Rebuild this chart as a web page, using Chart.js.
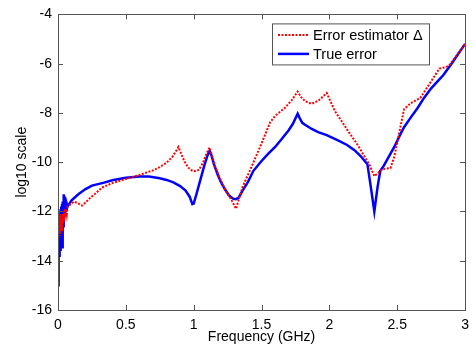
<!DOCTYPE html>
<html>
<head>
<meta charset="utf-8">
<script src="https://cdn.jsdelivr.net/npm/chart.js@4/dist/chart.umd.min.js"></script>
<style>
  html, body { margin: 0; padding: 0; background: #fff; }
  #wrap { width: 476px; height: 349px; }
</style>
</head>
<body>
<div id="wrap"><canvas id="errChart" width="476" height="349"></canvas></div>
<script>
// Error estimator (red dotted), log10 values vs frequency in GHz
const estFreq = [0, 0.002, 0.005, 0.008, 0.011, 0.014, 0.017, 0.02, 0.023, 0.026, 0.03, 0.034, 0.038, 0.042, 0.046, 0.05, 0.055, 0.06, 0.065, 0.07, 0.08,
  0.095, 0.117, 0.14, 0.178, 0.21, 0.24, 0.28, 0.324, 0.4, 0.5, 0.6, 0.7, 0.75, 0.8, 0.84, 0.87, 0.887, 0.9, 0.93, 0.96, 0.99, 1.015, 1.04,
  1.07, 1.09, 1.117, 1.13, 1.16, 1.2, 1.24, 1.28, 1.312, 1.33, 1.36, 1.417, 1.46, 1.5, 1.563, 1.6, 1.673, 1.72, 1.766, 1.79, 1.82, 1.868,
  1.92, 1.98, 2.04, 2.136, 2.21, 2.26, 2.295, 2.331, 2.39, 2.45, 2.478, 2.55, 2.6, 2.67, 2.74, 2.81, 2.85, 2.88, 2.94, 3.0];
const estLog = [-15.2, -11.9, -12.8, -12.0, -13.0, -12.1, -12.9, -12.2, -12.7, -12.3, -12.8, -12.1, -12.5, -12.0, -12.4, -11.9, -12.2, -11.9, -12.1, -11.8, -11.75,
  -11.7, -11.6, -11.65, -11.76, -11.6, -11.43, -11.25, -11.03, -10.85, -10.68, -10.52, -10.33, -10.2, -10.02, -9.8, -9.55, -9.38, -9.55, -9.95, -10.22, -10.35, -10.37, -10.3,
  -10.0, -9.7, -9.4, -9.65, -10.2, -10.75, -11.2, -11.55, -11.89, -11.55, -11.0, -10.3, -9.75, -9.24, -8.38, -8.12, -7.79, -7.5, -7.13, -7.35, -7.52, -7.63,
  -7.5, -7.19, -7.92, -8.72, -9.31, -9.78, -10.1, -10.57, -10.28, -10.24, -9.78, -7.85, -7.6, -7.39, -6.8, -6.2, -6.15, -6.09, -5.65, -5.2];

// True error (blue solid)
const trueFreq = [0, 0.003, 0.006, 0.009, 0.012, 0.015, 0.018, 0.021, 0.024, 0.027, 0.03, 0.033, 0.036, 0.039, 0.042, 0.045, 0.048, 0.052, 0.056, 0.06, 0.065, 0.07, 0.08,
  0.1, 0.15, 0.2, 0.25, 0.34, 0.4, 0.5, 0.6, 0.67, 0.75, 0.8, 0.85, 0.9, 0.94, 0.97, 0.99, 1.0, 1.02, 1.05, 1.08, 1.1, 1.117, 1.13, 1.15,
  1.18, 1.2, 1.23, 1.26, 1.29, 1.31, 1.33, 1.36, 1.4, 1.44, 1.5, 1.55, 1.6, 1.65, 1.7, 1.73, 1.766, 1.78, 1.8, 1.82, 1.87, 1.917, 1.98,
  2.063, 2.13, 2.185, 2.23, 2.26, 2.28, 2.305, 2.331, 2.355, 2.375, 2.4, 2.44, 2.478, 2.52, 2.55, 2.6, 2.65, 2.697, 2.75, 2.8, 2.84, 2.9, 2.95, 3.0];
const trueLog = [-15.0, -14.2, -12.1, -13.8, -12.0, -13.2, -11.9, -13.6, -11.8, -13.0, -11.7, -13.5, -11.6, -12.6, -11.3, -12.2, -11.4, -12.0, -11.6, -11.9, -11.7, -11.8, -11.72,
  -11.55, -11.3, -11.1, -10.95, -10.83, -10.73, -10.63, -10.58, -10.58, -10.65, -10.72, -10.82, -10.97, -11.15, -11.4, -11.7, -11.68, -11.3, -10.7, -10.1, -9.75, -9.54, -9.7, -10.1,
  -10.55, -10.8, -11.1, -11.35, -11.48, -11.5, -11.45, -11.15, -10.8, -10.35, -9.95, -9.65, -9.38, -9.05, -8.7, -8.45, -8.03, -8.2, -8.4, -8.48, -8.65, -8.78, -8.9,
  -9.11, -9.3, -9.51, -9.75, -9.95, -10.08, -11.0, -12.0, -11.0, -10.35, -10.15, -9.75, -9.38, -8.9, -8.58, -8.18, -7.8, -7.39, -7.0, -6.7, -6.46, -6.0, -5.6, -5.2];

const xTicks = [0, 0.5, 1, 1.5, 2, 2.5, 3];
const yTicks = [-16, -14, -12, -10, -8, -6, -4];
const seriesNames = ['Error estimator \u0394', 'True error'];

const FONT = 'Arial, "Liberation Sans", sans-serif';
const AXIS_COLOR = '#555';

function toPoints(xs, ys) {
  return xs.map((x, i) => ({ x: x, y: ys[i] }));
}

// box around the axes plus inward tick marks on all four sides
const axesBox = {
  id: 'axesBox',
  afterDatasetsDraw(chart) {
    const { ctx, chartArea: a, scales } = chart;
    const tl = 5;
    ctx.save();
    ctx.strokeStyle = AXIS_COLOR;
    ctx.lineWidth = 1;
    ctx.beginPath();
    xTicks.forEach(v => {
      const px = Math.round(scales.x.getPixelForValue(v)) + 0.5;
      ctx.moveTo(px, a.bottom); ctx.lineTo(px, a.bottom - tl);
      ctx.moveTo(px, a.top); ctx.lineTo(px, a.top + tl);
    });
    yTicks.forEach(v => {
      const py = Math.round(scales.y.getPixelForValue(v)) + 0.5;
      ctx.moveTo(a.left, py); ctx.lineTo(a.left + tl, py);
      ctx.moveTo(a.right, py); ctx.lineTo(a.right - tl, py);
    });
    ctx.stroke();
    ctx.strokeRect(Math.round(a.left) + 0.5, Math.round(a.top) + 0.5,
      Math.round(a.right - a.left), Math.round(a.bottom - a.top));
    ctx.restore();
  }
};

// boxed legend in the upper right
const boxLegend = {
  id: 'boxLegend',
  afterDraw(chart) {
    const { ctx, chartArea: a } = chart;
    const left = a.left + 214, top = a.top + 9, w = 157, h = 41;
    ctx.save();
    ctx.fillStyle = '#fff';
    ctx.fillRect(left, top, w, h);
    ctx.strokeStyle = AXIS_COLOR;
    ctx.lineWidth = 1;
    ctx.strokeRect(left + 0.5, top + 0.5, w, h);
    ctx.font = '14.5px ' + FONT;
    ctx.textBaseline = 'middle';
    ctx.fillStyle = '#000';
    chart.data.datasets.forEach((ds, i) => {
      const y = top + 11.5 + i * 19;
      ctx.beginPath();
      ctx.strokeStyle = ds.borderColor;
      ctx.lineWidth = ds.borderWidth;
      ctx.setLineDash(ds.borderDash || []);
      ctx.moveTo(left + 6, y);
      ctx.lineTo(left + 37, y);
      ctx.stroke();
      ctx.setLineDash([]);
      ctx.fillText(ds.label, left + 41, y + 1);
    });
    ctx.restore();
  }
};

new Chart(document.getElementById('errChart'), {
  type: 'line',
  data: {
    datasets: [
      {
        label: seriesNames[0],
        data: toPoints(estFreq, estLog),
        borderColor: '#ff0000',
        borderWidth: 2,
        borderDash: [2, 1.5],
        pointRadius: 0,
        tension: 0
      },
      {
        label: seriesNames[1],
        data: toPoints(trueFreq, trueLog),
        borderColor: '#0000ff',
        borderWidth: 2.5,
        pointRadius: 0,
        tension: 0
      }
    ]
  },
  options: {
    responsive: false,
    animation: false,
    layout: { padding: { left: 0, right: 8, top: 8, bottom: 0 } },
    plugins: { legend: { display: false }, tooltip: { enabled: false } },
    scales: {
      x: {
        type: 'linear', min: 0, max: 3,
        afterFit(scale) { scale.height = 39; },
        afterBuildTicks(scale) { scale.ticks = xTicks.map(v => ({ value: v })); },
        grid: { display: false, drawTicks: false },
        border: { display: false },
        ticks: {
          color: '#000', padding: 7, maxRotation: 0, font: { family: FONT, size: 14 },
          callback: v => String(v)
        },
        title: { display: true, text: 'Frequency (GHz)', color: '#000', padding: { top: 0, bottom: 3 }, font: { family: FONT, size: 14 } }
      },
      y: {
        type: 'linear', min: -16, max: -4,
        afterFit(scale) { scale.width = 58; },
        afterBuildTicks(scale) { scale.ticks = yTicks.map(v => ({ value: v })); },
        grid: { display: false, drawTicks: false },
        border: { display: false },
        ticks: { color: '#000', padding: 6, font: { family: FONT, size: 14 }, callback: v => String(v) },
        title: { display: true, text: 'log10 scale', color: '#000', padding: { top: 14, bottom: 0 }, font: { family: FONT, size: 14 } }
      }
    }
  },
  plugins: [axesBox, boxLegend]
});
</script>
</body>
</html>
